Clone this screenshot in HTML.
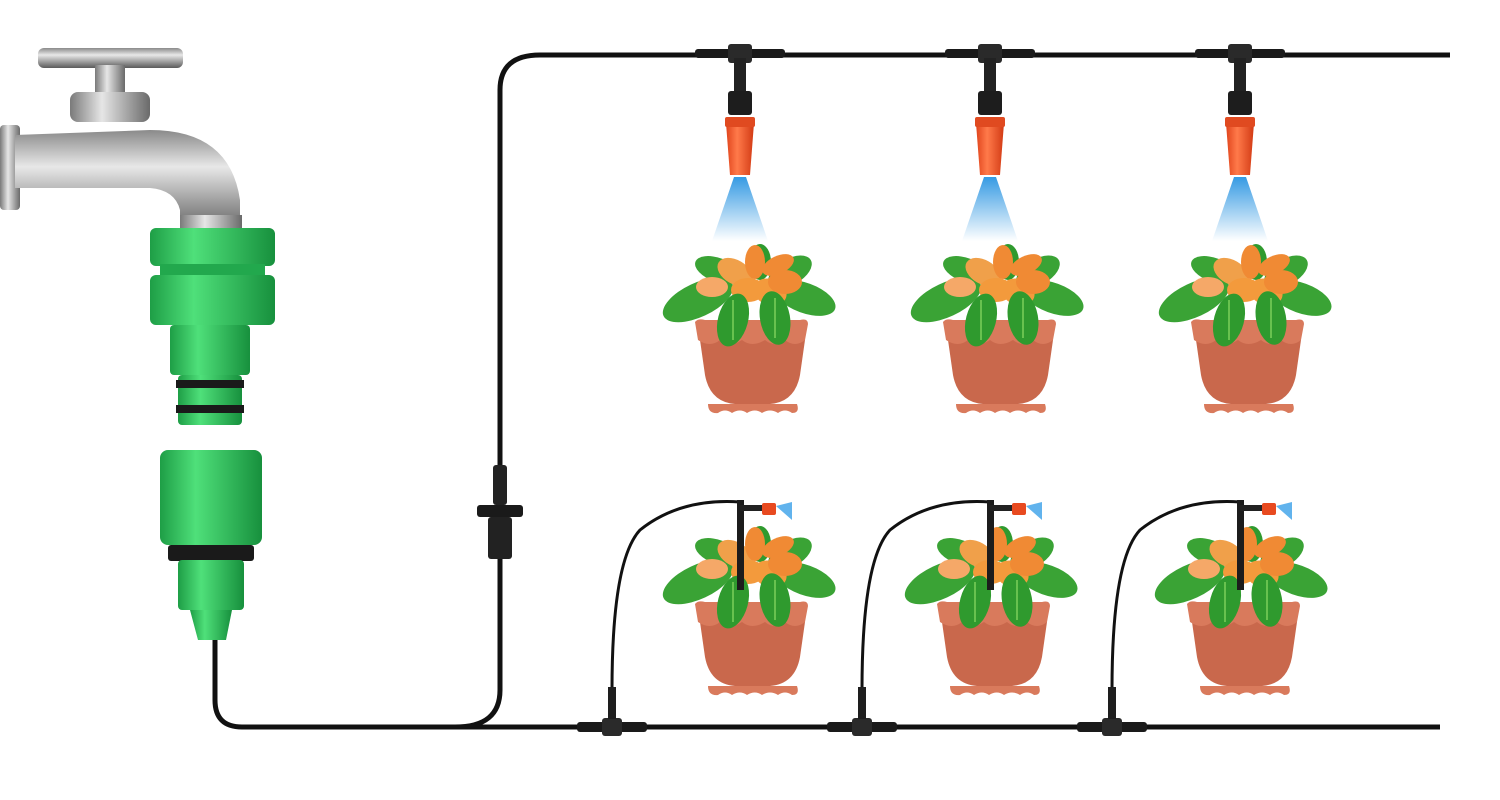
<!DOCTYPE html>
<html><head><meta charset="utf-8"><style>
html,body{margin:0;padding:0;background:#fff;width:1500px;height:800px;overflow:hidden}
</style></head><body>
<svg width="1500" height="800" viewBox="0 0 1500 800" xmlns="http://www.w3.org/2000/svg">
<defs>
<linearGradient id="metal" x1="0" y1="0" x2="0" y2="1">
<stop offset="0" stop-color="#8a8a8a"/><stop offset="0.35" stop-color="#e8e8e8"/><stop offset="0.7" stop-color="#9a9a9a"/><stop offset="1" stop-color="#5a5a5a"/></linearGradient>
<linearGradient id="metalv" x1="0" y1="0" x2="1" y2="0">
<stop offset="0" stop-color="#7a7a7a"/><stop offset="0.4" stop-color="#e6e6e6"/><stop offset="1" stop-color="#6a6a6a"/></linearGradient>
<linearGradient id="green" x1="0" y1="0" x2="1" y2="0">
<stop offset="0" stop-color="#1e9e46"/><stop offset="0.35" stop-color="#4fe07a"/><stop offset="1" stop-color="#17903d"/></linearGradient>
<linearGradient id="spray" x1="0" y1="0" x2="0" y2="1">
<stop offset="0" stop-color="#1f8fe0"/><stop offset="1" stop-color="#1f8fe0" stop-opacity="0"/></linearGradient>
<linearGradient id="orange" x1="0" y1="0" x2="1" y2="0">
<stop offset="0" stop-color="#e0441c"/><stop offset="0.4" stop-color="#ff7a4a"/><stop offset="1" stop-color="#d23a14"/></linearGradient>
<g id="plant">
<ellipse cx="698" cy="300" rx="38" ry="17" fill="#3aa335" transform="rotate(-25 698 300)"/>
<ellipse cx="805" cy="298" rx="32" ry="15" fill="#3aa335" transform="rotate(20 805 298)"/>
<ellipse cx="790" cy="272" rx="24" ry="13" fill="#3aa335" transform="rotate(-30 790 272)"/>
<ellipse cx="718" cy="270" rx="24" ry="12" fill="#3aa335" transform="rotate(20 718 270)"/>
<ellipse cx="760" cy="262" rx="11" ry="18" fill="#2f9a2e"/>
<ellipse cx="735" cy="272" rx="19" ry="12" fill="#f0a04a" transform="rotate(30 735 272)"/>
<ellipse cx="748" cy="290" rx="17" ry="12" fill="#f39a3c"/>
<ellipse cx="770" cy="292" rx="17" ry="13" fill="#f39a3c" transform="rotate(20 770 292)"/>
<ellipse cx="785" cy="282" rx="17" ry="12" fill="#f08a34"/>
<ellipse cx="712" cy="287" rx="16" ry="10" fill="#f5a868"/>
<ellipse cx="755" cy="262" rx="10" ry="17" fill="#f08a34"/>
<ellipse cx="778" cy="265" rx="17" ry="9" fill="#f08a34" transform="rotate(-25 778 265)"/>
<path d="M700 340 L805 340 L800 375 Q795 402 770 404 L735 404 Q710 402 705 375 Z" fill="#c9684c"/>
<path d="M695 322 Q698 318 705 320 L800 320 Q808 318 808 324 L805 340 Q795 348 785 340 Q775 348 765 340 Q752 348 742 340 Q730 348 720 340 Q710 348 698 340 Z" fill="#d97a5c"/>
<path d="M708 404 L797 404 Q800 413 792 413 Q785 408 778 413 Q770 408 762 413 Q755 408 747 413 Q740 408 732 413 Q725 408 718 413 Q708 414 708 404 Z" fill="#d97a5c"/>
<!-- front leaves over rim -->
<ellipse cx="733" cy="320" rx="15" ry="27" fill="#2f9a2e" transform="rotate(15 733 320)"/>
<ellipse cx="775" cy="318" rx="15" ry="27" fill="#2f9a2e" transform="rotate(-10 775 318)"/>
<path d="M733 300 L733 340 M775 298 L775 338" stroke="#7ccf5a" stroke-width="1.5"/>
</g>
<g id="toptee">
<rect x="-45" y="-4" width="90" height="9" rx="3" fill="#1a1a1a"/>
<rect x="-12" y="-9" width="24" height="19" rx="3" fill="#2a2a2a"/>
<rect x="-6" y="5" width="12" height="35" fill="#222"/>
<rect x="-12" y="38" width="24" height="24" rx="3" fill="#1d1d1d"/>
<path d="M-14 70 L14 70 L10 122 L-10 122 Z" fill="url(#orange)"/>
<rect x="-15" y="64" width="30" height="10" rx="2" fill="#e04a20"/>
<path d="M-6 124 L6 124 L28 188 L-28 188 Z" fill="url(#spray)" opacity="0.9"/>
</g>
<g id="bottee">
<rect x="-35" y="-5" width="70" height="10" rx="3" fill="#1a1a1a"/>
<rect x="-10" y="-9" width="20" height="18" rx="3" fill="#2a2a2a"/>
<rect x="-4" y="-40" width="8" height="32" fill="#1e1e1e"/>
</g>
</defs>

<g fill="none" stroke="#111" stroke-width="5">
<path d="M215 630 L215 700 Q215 727 242 727 L1440 727"/>
<path d="M455 727 Q500 727 500 690 L500 90 Q500 55 540 55 L1450 55"/>
</g>
<rect x="493" y="465" width="14" height="40" rx="3" fill="#222"/>
<rect x="477" y="505" width="46" height="12" rx="3" fill="#1a1a1a"/>
<rect x="488" y="517" width="24" height="42" rx="3" fill="#222"/>

<use href="#toptee" transform="translate(740,53)"/>
<use href="#toptee" transform="translate(990,53)"/>
<use href="#toptee" transform="translate(1240,53)"/>

<use href="#plant"/>
<use href="#plant" transform="translate(248,0)"/>
<use href="#plant" transform="translate(496,0)"/>
<use href="#plant" transform="translate(0,282)"/>
<use href="#plant" transform="translate(242,282)"/>
<use href="#plant" transform="translate(492,282)"/>

<g fill="none" stroke="#111" stroke-width="3">
<path d="M612 690 Q612 560 640 530 Q680 498 740 502"/>
<path d="M862 690 Q862 560 890 530 Q930 498 990 502"/>
<path d="M1112 690 Q1112 560 1140 530 Q1180 498 1240 502"/>
</g>
<g id="stakes">
<rect x="737" y="500" width="7" height="90" fill="#1c1c1c"/>
<rect x="740" y="505" width="25" height="6" fill="#222"/>
<rect x="762" y="503" width="14" height="12" rx="2" fill="#e84a20"/>
<path d="M776 506 L792 502 L792 520 Z" fill="#3aa0e8" opacity="0.8"/>
</g>
<use href="#stakes" transform="translate(250,0)"/>
<use href="#stakes" transform="translate(500,0)"/>
<use href="#bottee" transform="translate(612,727)"/>
<use href="#bottee" transform="translate(862,727)"/>
<use href="#bottee" transform="translate(1112,727)"/>

<rect x="38" y="48" width="145" height="20" rx="6" fill="url(#metal)"/>
<rect x="95" y="65" width="30" height="30" fill="url(#metalv)"/>
<rect x="70" y="92" width="80" height="30" rx="8" fill="url(#metalv)"/>
<rect x="0" y="125" width="20" height="85" rx="4" fill="url(#metalv)"/>
<path d="M15 135 L150 130 Q230 130 240 200 L240 235 L180 235 L180 210 Q175 190 150 188 L15 188 Z" fill="url(#metal)"/>
<rect x="180" y="215" width="62" height="22" fill="url(#metalv)"/>

<rect x="150" y="228" width="125" height="38" rx="6" fill="url(#green)"/>
<rect x="160" y="264" width="105" height="12" fill="#22a84d"/>
<rect x="150" y="275" width="125" height="50" rx="6" fill="url(#green)"/>
<rect x="170" y="325" width="80" height="50" rx="4" fill="url(#green)"/>
<rect x="178" y="375" width="64" height="50" rx="4" fill="url(#green)"/>
<rect x="176" y="380" width="68" height="8" fill="#1a1a1a"/>
<rect x="176" y="405" width="68" height="8" fill="#1a1a1a"/>
<rect x="160" y="450" width="102" height="95" rx="8" fill="url(#green)"/>
<rect x="168" y="545" width="86" height="16" rx="3" fill="#1a1a1a"/>
<rect x="178" y="560" width="66" height="50" rx="4" fill="url(#green)"/>
<path d="M190 610 L232 610 L226 640 L198 640 Z" fill="url(#green)"/>
</svg>
</body></html>
